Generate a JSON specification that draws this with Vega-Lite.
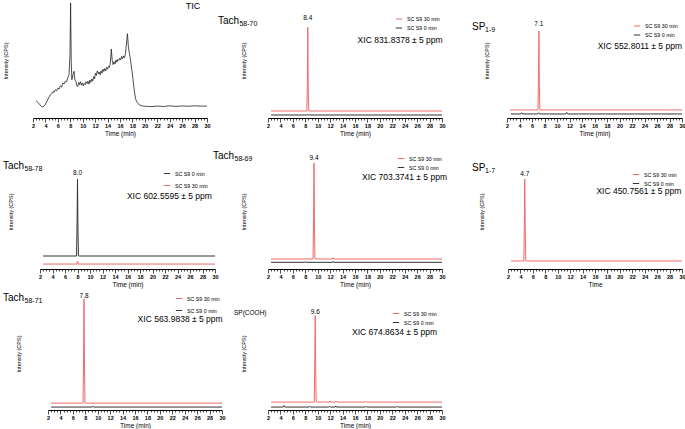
{
"$schema": "https://vega.github.io/schema/vega-lite/v6.json",
"padding": {"left": 3, "top": 0, "right": 0, "bottom": 0},
"background": "white",
"config": {
 "view": {"stroke": null},
 "font": "Liberation Sans",
 "axis": {"grid": false},
 "axisX": {"domainColor": "#000", "domainWidth": 1, "tickColor": "#000", "tickWidth": 0.7, "labelFontSize": 5.5, "labelFontWeight": "bold", "labelColor": "#000", "labelPadding": 1, "titleFontSize": 6.5, "titleFontWeight": "normal", "titleColor": "#000", "titlePadding": 2},
 "axisY": {"domain": false, "ticks": false, "labels": false, "titleFontSize": 5.5, "titleFontWeight": "normal", "titleColor": "#000"},
 "legend": {"labelFontSize": 5.3, "labelColor": "#000", "symbolType": "stroke", "symbolSize": 40, "symbolStrokeWidth": 1, "rowPadding": 1, "labelOffset": 4},
 "text": {"color": "#000"}
},
"datasets": {"d": [
{"p":"p1","s":"TIC","t":2.5,"v":15.1},{"p":"p1","s":"TIC","t":2.8,"v":13.5},{"p":"p1","s":"TIC","t":3.1,"v":11.5},{"p":"p1","s":"TIC","t":3.4,"v":10.0},{"p":"p1","s":"TIC","t":3.6,"v":9.6},{"p":"p1","s":"TIC","t":3.9,"v":11.0},{"p":"p1","s":"TIC","t":4.2,"v":14.0},{"p":"p1","s":"TIC","t":4.5,"v":17.5},{"p":"p1","s":"TIC","t":4.8,"v":20.3},{"p":"p1","s":"TIC","t":5.0,"v":21.0},{"p":"p1","s":"TIC","t":5.2,"v":23.0},{"p":"p1","s":"TIC","t":5.4,"v":22.3},{"p":"p1","s":"TIC","t":5.6,"v":24.5},{"p":"p1","s":"TIC","t":5.8,"v":23.5},{"p":"p1","s":"TIC","t":6.0,"v":26.0},{"p":"p1","s":"TIC","t":6.2,"v":25.2},{"p":"p1","s":"TIC","t":6.4,"v":28.0},{"p":"p1","s":"TIC","t":6.6,"v":27.0},{"p":"p1","s":"TIC","t":6.8,"v":30.5},{"p":"p1","s":"TIC","t":7.0,"v":29.5},{"p":"p1","s":"TIC","t":7.2,"v":32.0},{"p":"p1","s":"TIC","t":7.4,"v":31.5},{"p":"p1","s":"TIC","t":7.6,"v":35.0},{"p":"p1","s":"TIC","t":7.8,"v":37.7},{"p":"p1","s":"TIC","t":7.95,"v":55},{"p":"p1","s":"TIC","t":8.05,"v":100},{"p":"p1","s":"TIC","t":8.15,"v":50},{"p":"p1","s":"TIC","t":8.25,"v":33.3},{"p":"p1","s":"TIC","t":8.45,"v":38},{"p":"p1","s":"TIC","t":8.6,"v":40.6},{"p":"p1","s":"TIC","t":8.75,"v":33},{"p":"p1","s":"TIC","t":8.9,"v":31.9},{"p":"p1","s":"TIC","t":9.05,"v":28},{"p":"p1","s":"TIC","t":9.2,"v":27.5},{"p":"p1","s":"TIC","t":9.35,"v":31},{"p":"p1","s":"TIC","t":9.5,"v":29},{"p":"p1","s":"TIC","t":9.65,"v":31.5},{"p":"p1","s":"TIC","t":9.8,"v":28.5},{"p":"p1","s":"TIC","t":9.95,"v":30.5},{"p":"p1","s":"TIC","t":10.1,"v":28},{"p":"p1","s":"TIC","t":10.25,"v":30},{"p":"p1","s":"TIC","t":10.4,"v":29},{"p":"p1","s":"TIC","t":10.55,"v":31.5},{"p":"p1","s":"TIC","t":10.7,"v":30},{"p":"p1","s":"TIC","t":10.85,"v":32},{"p":"p1","s":"TIC","t":11.0,"v":29.5},{"p":"p1","s":"TIC","t":11.15,"v":33},{"p":"p1","s":"TIC","t":11.3,"v":31},{"p":"p1","s":"TIC","t":11.45,"v":34},{"p":"p1","s":"TIC","t":11.6,"v":32},{"p":"p1","s":"TIC","t":11.75,"v":36},{"p":"p1","s":"TIC","t":11.9,"v":34},{"p":"p1","s":"TIC","t":12.05,"v":39},{"p":"p1","s":"TIC","t":12.2,"v":37},{"p":"p1","s":"TIC","t":12.35,"v":41},{"p":"p1","s":"TIC","t":12.5,"v":38.5},{"p":"p1","s":"TIC","t":12.65,"v":40},{"p":"p1","s":"TIC","t":12.8,"v":37.5},{"p":"p1","s":"TIC","t":12.95,"v":41},{"p":"p1","s":"TIC","t":13.1,"v":39},{"p":"p1","s":"TIC","t":13.25,"v":42.5},{"p":"p1","s":"TIC","t":13.4,"v":40.5},{"p":"p1","s":"TIC","t":13.55,"v":43},{"p":"p1","s":"TIC","t":13.7,"v":41},{"p":"p1","s":"TIC","t":13.85,"v":44},{"p":"p1","s":"TIC","t":14.0,"v":42.5},{"p":"p1","s":"TIC","t":14.15,"v":45},{"p":"p1","s":"TIC","t":14.3,"v":44},{"p":"p1","s":"TIC","t":14.45,"v":48},{"p":"p1","s":"TIC","t":14.6,"v":60},{"p":"p1","s":"TIC","t":14.75,"v":50},{"p":"p1","s":"TIC","t":14.9,"v":46.4},{"p":"p1","s":"TIC","t":15.05,"v":49},{"p":"p1","s":"TIC","t":15.2,"v":47},{"p":"p1","s":"TIC","t":15.35,"v":50.5},{"p":"p1","s":"TIC","t":15.5,"v":48.5},{"p":"p1","s":"TIC","t":15.65,"v":51},{"p":"p1","s":"TIC","t":15.8,"v":50},{"p":"p1","s":"TIC","t":15.95,"v":52},{"p":"p1","s":"TIC","t":16.1,"v":50.5},{"p":"p1","s":"TIC","t":16.25,"v":53.5},{"p":"p1","s":"TIC","t":16.4,"v":51.5},{"p":"p1","s":"TIC","t":16.55,"v":54},{"p":"p1","s":"TIC","t":16.7,"v":52.2},{"p":"p1","s":"TIC","t":16.85,"v":55},{"p":"p1","s":"TIC","t":17.0,"v":62.3},{"p":"p1","s":"TIC","t":17.2,"v":73.3},{"p":"p1","s":"TIC","t":17.35,"v":62},{"p":"p1","s":"TIC","t":17.5,"v":56.5},{"p":"p1","s":"TIC","t":17.65,"v":52},{"p":"p1","s":"TIC","t":17.8,"v":46},{"p":"p1","s":"TIC","t":17.95,"v":40},{"p":"p1","s":"TIC","t":18.1,"v":33},{"p":"p1","s":"TIC","t":18.25,"v":26},{"p":"p1","s":"TIC","t":18.4,"v":20},{"p":"p1","s":"TIC","t":18.55,"v":16},{"p":"p1","s":"TIC","t":18.7,"v":14},{"p":"p1","s":"TIC","t":18.9,"v":12.5},{"p":"p1","s":"TIC","t":19.1,"v":11.6},{"p":"p1","s":"TIC","t":19.4,"v":10.8},{"p":"p1","s":"TIC","t":19.8,"v":10.3},{"p":"p1","s":"TIC","t":20.3,"v":10.1},{"p":"p1","s":"TIC","t":21,"v":9.9},{"p":"p1","s":"TIC","t":22,"v":10.4},{"p":"p1","s":"TIC","t":23,"v":10.0},{"p":"p1","s":"TIC","t":24,"v":10.6},{"p":"p1","s":"TIC","t":25,"v":10.1},{"p":"p1","s":"TIC","t":26,"v":10.5},{"p":"p1","s":"TIC","t":27,"v":10.2},{"p":"p1","s":"TIC","t":28,"v":10.6},{"p":"p1","s":"TIC","t":29,"v":10.3},{"p":"p1","s":"TIC","t":30,"v":10.4},

{"p":"p2","s":"SC S9 30 min","t":2.5,"v":6.1},{"p":"p2","s":"SC S9 30 min","t":8.25,"v":6.1},{"p":"p2","s":"SC S9 30 min","t":8.33,"v":30},{"p":"p2","s":"SC S9 30 min","t":8.4,"v":79},{"p":"p2","s":"SC S9 30 min","t":8.47,"v":28},{"p":"p2","s":"SC S9 30 min","t":8.55,"v":6.3},{"p":"p2","s":"SC S9 30 min","t":8.7,"v":6.1},{"p":"p2","s":"SC S9 30 min","t":30,"v":6.1},
{"p":"p2","s":"SC S9 0 min","t":2.5,"v":2.6},{"p":"p2","s":"SC S9 0 min","t":8.3,"v":2.6},{"p":"p2","s":"SC S9 0 min","t":8.4,"v":3.2},{"p":"p2","s":"SC S9 0 min","t":8.5,"v":2.6},{"p":"p2","s":"SC S9 0 min","t":30,"v":2.6},

{"p":"p3","s":"SC S9 30 min","t":2.5,"v":7},{"p":"p3","s":"SC S9 30 min","t":6.95,"v":7},{"p":"p3","s":"SC S9 30 min","t":7.03,"v":35},{"p":"p3","s":"SC S9 30 min","t":7.1,"v":75.6},{"p":"p3","s":"SC S9 30 min","t":7.17,"v":30},{"p":"p3","s":"SC S9 30 min","t":7.25,"v":7.2},{"p":"p3","s":"SC S9 30 min","t":7.4,"v":7},{"p":"p3","s":"SC S9 30 min","t":30,"v":7},
{"p":"p3","s":"SC S9 0 min","t":2.6,"v":3.5},{"p":"p3","s":"SC S9 0 min","t":4.2,"v":3.5},{"p":"p3","s":"SC S9 0 min","t":4.35,"v":4.6},{"p":"p3","s":"SC S9 0 min","t":4.5,"v":3.5},{"p":"p3","s":"SC S9 0 min","t":6.9,"v":3.5},{"p":"p3","s":"SC S9 0 min","t":7.05,"v":4.5},{"p":"p3","s":"SC S9 0 min","t":7.2,"v":3.5},{"p":"p3","s":"SC S9 0 min","t":11.4,"v":3.5},{"p":"p3","s":"SC S9 0 min","t":11.55,"v":4.8},{"p":"p3","s":"SC S9 0 min","t":11.7,"v":3.5},{"p":"p3","s":"SC S9 0 min","t":30,"v":3.5},

{"p":"p4","s":"SC S9 0 min","t":2.5,"v":11.3},{"p":"p4","s":"SC S9 0 min","t":7.85,"v":11.3},{"p":"p4","s":"SC S9 0 min","t":7.93,"v":40},{"p":"p4","s":"SC S9 0 min","t":8.0,"v":78.3},{"p":"p4","s":"SC S9 0 min","t":8.07,"v":35},{"p":"p4","s":"SC S9 0 min","t":8.15,"v":11.5},{"p":"p4","s":"SC S9 0 min","t":8.3,"v":11.3},{"p":"p4","s":"SC S9 0 min","t":30,"v":11.3},
{"p":"p4","s":"SC S9 30 min","t":2.5,"v":4.3},{"p":"p4","s":"SC S9 30 min","t":7.9,"v":4.3},{"p":"p4","s":"SC S9 30 min","t":8.0,"v":7},{"p":"p4","s":"SC S9 30 min","t":8.1,"v":4.3},{"p":"p4","s":"SC S9 30 min","t":30,"v":4.3},

{"p":"p5","s":"SC S9 30 min","t":2.5,"v":8.7},{"p":"p5","s":"SC S9 30 min","t":9.25,"v":8.7},{"p":"p5","s":"SC S9 30 min","t":9.33,"v":45},{"p":"p5","s":"SC S9 30 min","t":9.4,"v":92.2},{"p":"p5","s":"SC S9 30 min","t":9.47,"v":40},{"p":"p5","s":"SC S9 30 min","t":9.55,"v":9},{"p":"p5","s":"SC S9 30 min","t":9.7,"v":8.7},{"p":"p5","s":"SC S9 30 min","t":12.4,"v":8.7},{"p":"p5","s":"SC S9 30 min","t":12.5,"v":9.8},{"p":"p5","s":"SC S9 30 min","t":12.6,"v":8.7},{"p":"p5","s":"SC S9 30 min","t":30,"v":8.7},
{"p":"p5","s":"SC S9 0 min","t":2.5,"v":5.8},{"p":"p5","s":"SC S9 0 min","t":7.9,"v":5.8},{"p":"p5","s":"SC S9 0 min","t":8.0,"v":6.5},{"p":"p5","s":"SC S9 0 min","t":8.1,"v":5.8},{"p":"p5","s":"SC S9 0 min","t":12.4,"v":5.8},{"p":"p5","s":"SC S9 0 min","t":12.5,"v":6.6},{"p":"p5","s":"SC S9 0 min","t":12.6,"v":5.8},{"p":"p5","s":"SC S9 0 min","t":30,"v":5.8},

{"p":"p6","s":"SC S9 30 min","t":2.5,"v":7},{"p":"p6","s":"SC S9 30 min","t":4.55,"v":7},{"p":"p6","s":"SC S9 30 min","t":4.63,"v":40},{"p":"p6","s":"SC S9 30 min","t":4.7,"v":78.3},{"p":"p6","s":"SC S9 30 min","t":4.77,"v":38},{"p":"p6","s":"SC S9 30 min","t":4.85,"v":7.2},{"p":"p6","s":"SC S9 30 min","t":5.0,"v":7},{"p":"p6","s":"SC S9 30 min","t":30,"v":7},

{"p":"p7","s":"SC S9 30 min","t":2.5,"v":6.1},{"p":"p7","s":"SC S9 30 min","t":7.65,"v":6.1},{"p":"p7","s":"SC S9 30 min","t":7.73,"v":50},{"p":"p7","s":"SC S9 30 min","t":7.8,"v":98.3},{"p":"p7","s":"SC S9 30 min","t":7.87,"v":45},{"p":"p7","s":"SC S9 30 min","t":7.95,"v":6.3},{"p":"p7","s":"SC S9 30 min","t":8.1,"v":6.1},{"p":"p7","s":"SC S9 30 min","t":30,"v":6.1},
{"p":"p7","s":"SC S9 0 min","t":2.5,"v":2.6},{"p":"p7","s":"SC S9 0 min","t":9.1,"v":2.6},{"p":"p7","s":"SC S9 0 min","t":9.2,"v":3.3},{"p":"p7","s":"SC S9 0 min","t":9.3,"v":2.6},{"p":"p7","s":"SC S9 0 min","t":30,"v":2.6},

{"p":"p8","s":"SC S9 30 min","t":2.5,"v":7},{"p":"p8","s":"SC S9 30 min","t":9.45,"v":7},{"p":"p8","s":"SC S9 30 min","t":9.53,"v":45},{"p":"p8","s":"SC S9 30 min","t":9.6,"v":83.5},{"p":"p8","s":"SC S9 30 min","t":9.67,"v":40},{"p":"p8","s":"SC S9 30 min","t":9.75,"v":7.3},{"p":"p8","s":"SC S9 30 min","t":9.9,"v":7},{"p":"p8","s":"SC S9 30 min","t":10.9,"v":7},{"p":"p8","s":"SC S9 30 min","t":11.0,"v":7.8},{"p":"p8","s":"SC S9 30 min","t":11.1,"v":7},{"p":"p8","s":"SC S9 30 min","t":11.9,"v":7},{"p":"p8","s":"SC S9 30 min","t":12.0,"v":8},{"p":"p8","s":"SC S9 30 min","t":12.1,"v":7},{"p":"p8","s":"SC S9 30 min","t":12.9,"v":7},{"p":"p8","s":"SC S9 30 min","t":13.0,"v":7.8},{"p":"p8","s":"SC S9 30 min","t":13.1,"v":7},{"p":"p8","s":"SC S9 30 min","t":17.6,"v":7},{"p":"p8","s":"SC S9 30 min","t":17.7,"v":7.7},{"p":"p8","s":"SC S9 30 min","t":17.8,"v":7},{"p":"p8","s":"SC S9 30 min","t":30,"v":7},
{"p":"p8","s":"SC S9 0 min","t":2.5,"v":2.6},{"p":"p8","s":"SC S9 0 min","t":4.45,"v":2.6},{"p":"p8","s":"SC S9 0 min","t":4.6,"v":3.9},{"p":"p8","s":"SC S9 0 min","t":4.75,"v":2.6},{"p":"p8","s":"SC S9 0 min","t":8.6,"v":2.6},{"p":"p8","s":"SC S9 0 min","t":8.7,"v":3.2},{"p":"p8","s":"SC S9 0 min","t":8.8,"v":2.6},{"p":"p8","s":"SC S9 0 min","t":11.8,"v":2.6},{"p":"p8","s":"SC S9 0 min","t":11.9,"v":3.2},{"p":"p8","s":"SC S9 0 min","t":12.0,"v":2.6},{"p":"p8","s":"SC S9 0 min","t":12.8,"v":2.6},{"p":"p8","s":"SC S9 0 min","t":12.9,"v":3.6},{"p":"p8","s":"SC S9 0 min","t":13.0,"v":2.6},{"p":"p8","s":"SC S9 0 min","t":17.7,"v":2.6},{"p":"p8","s":"SC S9 0 min","t":17.8,"v":3.2},{"p":"p8","s":"SC S9 0 min","t":17.9,"v":2.6},{"p":"p8","s":"SC S9 0 min","t":22.7,"v":2.6},{"p":"p8","s":"SC S9 0 min","t":22.8,"v":3.2},{"p":"p8","s":"SC S9 0 min","t":22.9,"v":2.6},{"p":"p8","s":"SC S9 0 min","t":30,"v":2.6}
]},
"resolve": {"scale": {"color": "independent"}, "legend": {"color": "independent"}},
"spacing": 14,
"vconcat": [
{"hconcat": [
 {"width": 174, "height": 115, "layer": [
  {"data": {"name": "d"}, "transform": [{"filter": "datum.p === 'p1'"}], "mark": {"type": "line", "strokeWidth": 0.8, "color": "#222"},
   "encoding": {"x": {"field": "t", "type": "quantitative", "scale": {"domain": [2, 30], "nice": false, "zero": false}, "axis": {"title": "Time (min)", "tickCount": 56, "labelExpr": "datum.value % 2 === 0 ? format(datum.value, 'd') : ''", "labelOverlap": false, "labelFlush": false, "tickSize": {"condition": {"test": "datum.value % 2 === 0", "value": 4}, "value": 2}}},
    "y": {"field": "v", "type": "quantitative", "scale": {"domain": [0, 100], "nice": false, "zero": false}, "axis": {"title": "Intensity (CPS)", "titlePadding": 25}}}},
  {"data": {"values": [{}]}, "mark": {"type": "text", "text": "TIC", "fontSize": 9, "align": "left", "baseline": "middle"}, "encoding": {"x": {"datum": 26.6}, "y": {"datum": 97}}}
 ]},
 {"width": 61, "height": 1, "data": {"values": [{}]}, "mark": {"type": "point", "opacity": 0}},
 {"width": 174, "height": 115, "layer": [
  {"data": {"name": "d"}, "transform": [{"filter": "datum.p === 'p2'"}], "mark": {"type": "line", "strokeWidth": 1},
   "encoding": {"x": {"field": "t", "type": "quantitative", "scale": {"domain": [2, 30], "nice": false, "zero": false}, "axis": {"title": "Time (min)", "tickCount": 56, "labelExpr": "datum.value % 2 === 0 ? format(datum.value, 'd') : ''", "labelOverlap": false, "labelFlush": false, "tickSize": {"condition": {"test": "datum.value % 2 === 0", "value": 4}, "value": 2}}},
    "y": {"field": "v", "type": "quantitative", "scale": {"domain": [0, 100], "nice": false, "zero": false}, "axis": {"title": "Intensity (CPS)", "titlePadding": 22}},
    "color": {"field": "s", "type": "nominal", "scale": {"domain": ["SC S9 30 min", "SC S9 0 min"], "range": ["#ee6b6b", "#333333"]}, "legend": {"title": null, "orient": "none", "legendX": 127, "legendY": 12}}}},
  {"data": {"values": [{}]}, "mark": {"type": "text", "text": "8.4", "fontSize": 6.5, "baseline": "middle"}, "encoding": {"x": {"datum": 8.4}, "y": {"datum": 87}}},
  {"data": {"values": [{}]}, "mark": {"type": "text", "text": "XIC 831.8378 ± 5 ppm", "fontSize": 8.5, "align": "right", "baseline": "middle"}, "encoding": {"x": {"datum": 30.1}, "y": {"datum": 67.8}}},
  {"data": {"values": [{}]}, "mark": {"type": "text", "text": "Tach", "fontSize": 10, "align": "left", "baseline": "middle"}, "encoding": {"x": {"datum": -6.05}, "y": {"datum": 84.3}}},
  {"data": {"values": [{}]}, "mark": {"type": "text", "text": "58-70", "fontSize": 7, "align": "left", "baseline": "middle", "dx": 21.5, "dy": 3}, "encoding": {"x": {"datum": -6.05}, "y": {"datum": 84.3}}}
 ]},
 {"width": 65, "height": 1, "data": {"values": [{}]}, "mark": {"type": "point", "opacity": 0}},
 {"width": 175, "height": 115, "layer": [
  {"data": {"name": "d"}, "transform": [{"filter": "datum.p === 'p3'"}], "mark": {"type": "line", "strokeWidth": 1},
   "encoding": {"x": {"field": "t", "type": "quantitative", "scale": {"domain": [2, 30], "nice": false, "zero": false}, "axis": {"title": "Time (min)", "tickCount": 56, "labelExpr": "datum.value % 2 === 0 ? format(datum.value, 'd') : ''", "labelOverlap": false, "labelFlush": false, "tickSize": {"condition": {"test": "datum.value % 2 === 0", "value": 4}, "value": 2}}},
    "y": {"field": "v", "type": "quantitative", "scale": {"domain": [0, 100], "nice": false, "zero": false}, "axis": {"title": "Intensity (CPS)", "titlePadding": 18}},
    "color": {"field": "s", "type": "nominal", "scale": {"domain": ["SC S9 30 min", "SC S9 0 min"], "range": ["#ee6b6b", "#333333"]}, "legend": {"title": null, "orient": "none", "legendX": 126, "legendY": 19}}}},
  {"data": {"values": [{}]}, "mark": {"type": "text", "text": "7.1", "fontSize": 6.5, "baseline": "middle"}, "encoding": {"x": {"datum": 7.1}, "y": {"datum": 81.7}}},
  {"data": {"values": [{}]}, "mark": {"type": "text", "text": "XIC 552.8011 ± 5 ppm", "fontSize": 8.5, "align": "right", "baseline": "middle"}, "encoding": {"x": {"datum": 30}, "y": {"datum": 62.6}}},
  {"data": {"values": [{}]}, "mark": {"type": "text", "text": "SP", "fontSize": 10, "align": "left", "baseline": "middle"}, "encoding": {"x": {"datum": -3.6}, "y": {"datum": 79.1}}},
  {"data": {"values": [{}]}, "mark": {"type": "text", "text": "1-9", "fontSize": 7, "align": "left", "baseline": "middle", "dx": 13, "dy": 3}, "encoding": {"x": {"datum": -3.6}, "y": {"datum": 79.1}}}
 ]}
], "spacing": 0, "bounds": "flush", "resolve": {"scale": {"color": "independent"}, "legend": {"color": "independent"}}},
{"vconcat": [
{"hconcat": [
 {"width": 7, "height": 1, "data": {"values": [{}]}, "mark": {"type": "point", "opacity": 0}},
 {"width": 175, "height": 115, "layer": [
  {"data": {"name": "d"}, "transform": [{"filter": "datum.p === 'p4'"}], "mark": {"type": "line", "strokeWidth": 1},
   "encoding": {"x": {"field": "t", "type": "quantitative", "scale": {"domain": [2, 30], "nice": false, "zero": false}, "axis": {"title": "Time (min)", "tickCount": 56, "labelExpr": "datum.value % 2 === 0 ? format(datum.value, 'd') : ''", "labelOverlap": false, "labelFlush": false, "tickSize": {"condition": {"test": "datum.value % 2 === 0", "value": 4}, "value": 2}}},
    "y": {"field": "v", "type": "quantitative", "scale": {"domain": [0, 100], "nice": false, "zero": false}, "axis": {"title": "Intensity (CPS)", "titlePadding": 27}},
    "color": {"field": "s", "type": "nominal", "scale": {"domain": ["SC S9 0 min", "SC S9 30 min"], "range": ["#333333", "#ee6b6b"]}, "legend": {"title": null, "orient": "none", "legendX": 123, "legendY": 15.5, "rowPadding": 4}}}},
  {"data": {"values": [{}]}, "mark": {"type": "text", "text": "8.0", "fontSize": 6.5, "baseline": "middle"}, "encoding": {"x": {"datum": 8.0}, "y": {"datum": 83.5}}},
  {"data": {"values": [{}]}, "mark": {"type": "text", "text": "XIC 602.5595 ± 5 ppm", "fontSize": 8.5, "align": "right", "baseline": "middle"}, "encoding": {"x": {"datum": 29.5}, "y": {"datum": 63.5}}},
  {"data": {"values": [{}]}, "mark": {"type": "text", "text": "Tach", "fontSize": 10, "align": "left", "baseline": "middle"}, "encoding": {"x": {"datum": -3.92}, "y": {"datum": 89.6}}},
  {"data": {"values": [{}]}, "mark": {"type": "text", "text": "58-78", "fontSize": 7, "align": "left", "baseline": "middle", "dx": 21.5, "dy": 3}, "encoding": {"x": {"datum": -3.92}, "y": {"datum": 89.6}}}
 ]},
 {"width": 53, "height": 1, "data": {"values": [{}]}, "mark": {"type": "point", "opacity": 0}},
 {"width": 174, "height": 115, "layer": [
  {"data": {"name": "d"}, "transform": [{"filter": "datum.p === 'p5'"}], "mark": {"type": "line", "strokeWidth": 1},
   "encoding": {"x": {"field": "t", "type": "quantitative", "scale": {"domain": [2, 30], "nice": false, "zero": false}, "axis": {"title": "Time (min)", "tickCount": 56, "labelExpr": "datum.value % 2 === 0 ? format(datum.value, 'd') : ''", "labelOverlap": false, "labelFlush": false, "tickSize": {"condition": {"test": "datum.value % 2 === 0", "value": 4}, "value": 2}}},
    "y": {"field": "v", "type": "quantitative", "scale": {"domain": [0, 100], "nice": false, "zero": false}, "axis": {"title": "Intensity (CPS)", "titlePadding": 22}},
    "color": {"field": "s", "type": "nominal", "scale": {"domain": ["SC S9 30 min", "SC S9 0 min"], "range": ["#ee6b6b", "#333333"]}, "legend": {"title": null, "orient": "none", "legendX": 129, "legendY": 0.5}}}},
  {"data": {"values": [{}]}, "mark": {"type": "text", "text": "9.4", "fontSize": 6.5, "baseline": "middle"}, "encoding": {"x": {"datum": 9.4}, "y": {"datum": 96.5}}},
  {"data": {"values": [{}]}, "mark": {"type": "text", "text": "XIC 703.3741 ± 5 ppm", "fontSize": 8.5, "align": "right", "baseline": "middle"}, "encoding": {"x": {"datum": 30.8}, "y": {"datum": 80}}},
  {"data": {"values": [{}]}, "mark": {"type": "text", "text": "Tach", "fontSize": 10, "align": "left", "baseline": "middle"}, "encoding": {"x": {"datum": -6.85}, "y": {"datum": 98}}},
  {"data": {"values": [{}]}, "mark": {"type": "text", "text": "58-69", "fontSize": 7, "align": "left", "baseline": "middle", "dx": 21.5, "dy": 3}, "encoding": {"x": {"datum": -6.85}, "y": {"datum": 98}}}
 ]},
 {"width": 66, "height": 1, "data": {"values": [{}]}, "mark": {"type": "point", "opacity": 0}},
 {"width": 174, "height": 115, "layer": [
  {"data": {"name": "d"}, "transform": [{"filter": "datum.p === 'p6'"}], "mark": {"type": "line", "strokeWidth": 1},
   "encoding": {"x": {"field": "t", "type": "quantitative", "scale": {"domain": [2, 30], "nice": false, "zero": false}, "axis": {"title": "Time", "tickCount": 56, "labelExpr": "datum.value % 2 === 0 ? format(datum.value, 'd') : ''", "labelOverlap": false, "labelFlush": false, "tickSize": {"condition": {"test": "datum.value % 2 === 0", "value": 4}, "value": 2}}},
    "y": {"field": "v", "type": "quantitative", "scale": {"domain": [0, 100], "nice": false, "zero": false}, "axis": {"title": "Intensity (CPS)", "titlePadding": 24}},
    "color": {"field": "s", "type": "nominal", "scale": {"domain": ["SC S9 30 min", "SC S9 0 min"], "range": ["#ee6b6b", "#333333"]}, "legend": {"title": null, "orient": "none", "legendX": 124, "legendY": 16.5}}}},
  {"data": {"values": [{}]}, "mark": {"type": "text", "text": "4.7", "fontSize": 6.5, "baseline": "middle"}, "encoding": {"x": {"datum": 4.7}, "y": {"datum": 82.6}}},
  {"data": {"values": [{}]}, "mark": {"type": "text", "text": "XIC 450.7561 ± 5 ppm", "fontSize": 8.5, "align": "right", "baseline": "middle"}, "encoding": {"x": {"datum": 29.9}, "y": {"datum": 67.8}}},
  {"data": {"values": [{}]}, "mark": {"type": "text", "text": "SP", "fontSize": 10, "align": "left", "baseline": "middle"}, "encoding": {"x": {"datum": -3.8}, "y": {"datum": 87.8}}},
  {"data": {"values": [{}]}, "mark": {"type": "text", "text": "1-7", "fontSize": 7, "align": "left", "baseline": "middle", "dx": 13, "dy": 3}, "encoding": {"x": {"datum": -3.8}, "y": {"datum": 87.8}}}
 ]}
], "spacing": 0, "bounds": "flush", "resolve": {"scale": {"color": "independent"}, "legend": {"color": "independent"}}},
{"hconcat": [
 {"width": 15, "height": 1, "data": {"values": [{}]}, "mark": {"type": "point", "opacity": 0}},
 {"width": 174, "height": 113, "layer": [
  {"data": {"name": "d"}, "transform": [{"filter": "datum.p === 'p7'"}], "mark": {"type": "line", "strokeWidth": 1},
   "encoding": {"x": {"field": "t", "type": "quantitative", "scale": {"domain": [2, 30], "nice": false, "zero": false}, "axis": {"title": "Time (min)", "tickCount": 56, "labelExpr": "datum.value % 2 === 0 ? format(datum.value, 'd') : ''", "labelOverlap": false, "labelFlush": false, "tickSize": {"condition": {"test": "datum.value % 2 === 0", "value": 4}, "value": 2}}},
    "y": {"field": "v", "type": "quantitative", "scale": {"domain": [0, 100], "nice": false, "zero": false}, "axis": {"title": "Intensity (CPS)", "titlePadding": 27}},
    "color": {"field": "s", "type": "nominal", "scale": {"domain": ["SC S9 30 min", "SC S9 0 min"], "range": ["#ee6b6b", "#333333"]}, "legend": {"title": null, "orient": "none", "legendX": 127, "legendY": -2.5, "rowPadding": 4}}}},
  {"data": {"values": [{}]}, "mark": {"type": "text", "text": "7.8", "fontSize": 6.5, "baseline": "middle"}, "encoding": {"x": {"datum": 7.8}, "y": {"datum": 100.9}}},
  {"data": {"values": [{}]}, "mark": {"type": "text", "text": "XIC 563.9838 ± 5 ppm", "fontSize": 8.5, "align": "right", "baseline": "middle"}, "encoding": {"x": {"datum": 30.1}, "y": {"datum": 80.9}}},
  {"data": {"values": [{}]}, "mark": {"type": "text", "text": "Tach", "fontSize": 10, "align": "left", "baseline": "middle"}, "encoding": {"x": {"datum": -5.24}, "y": {"datum": 99.1}}},
  {"data": {"values": [{}]}, "mark": {"type": "text", "text": "58-71", "fontSize": 7, "align": "left", "baseline": "middle", "dx": 21.5, "dy": 3}, "encoding": {"x": {"datum": -5.24}, "y": {"datum": 99.1}}}
 ]},
 {"width": 46, "height": 1, "data": {"values": [{}]}, "mark": {"type": "point", "opacity": 0}},
 {"width": 174, "height": 113, "layer": [
  {"data": {"name": "d"}, "transform": [{"filter": "datum.p === 'p8'"}], "mark": {"type": "line", "strokeWidth": 1},
   "encoding": {"x": {"field": "t", "type": "quantitative", "scale": {"domain": [2, 30], "nice": false, "zero": false}, "axis": {"title": "Time (min)", "tickCount": 56, "labelExpr": "datum.value % 2 === 0 ? format(datum.value, 'd') : ''", "labelOverlap": false, "labelFlush": false, "tickSize": {"condition": {"test": "datum.value % 2 === 0", "value": 4}, "value": 2}}},
    "y": {"field": "v", "type": "quantitative", "scale": {"domain": [0, 100], "nice": false, "zero": false}, "axis": {"title": "Intensity (CPS)", "titlePadding": 22}},
    "color": {"field": "s", "type": "nominal", "scale": {"domain": ["SC S9 30 min", "SC S9 0 min"], "range": ["#ee6b6b", "#333333"]}, "legend": {"title": null, "orient": "none", "legendX": 124, "legendY": 12.5}}}},
  {"data": {"values": [{}]}, "mark": {"type": "text", "text": "9.6", "fontSize": 6.5, "baseline": "middle"}, "encoding": {"x": {"datum": 9.6}, "y": {"datum": 87}}},
  {"data": {"values": [{}]}, "mark": {"type": "text", "text": "XIC 674.8634 ± 5 ppm", "fontSize": 8.5, "align": "right", "baseline": "middle"}, "encoding": {"x": {"datum": 29.2}, "y": {"datum": 68.7}}},
  {"data": {"values": [{}]}, "mark": {"type": "text", "text": "SP(COOH)", "fontSize": 6.5, "align": "left", "baseline": "middle"}, "encoding": {"x": {"datum": -3.47}, "y": {"datum": 86.1}}}
 ]}
], "spacing": 0, "bounds": "flush", "resolve": {"scale": {"color": "independent"}, "legend": {"color": "independent"}}}
], "spacing": 4, "resolve": {"scale": {"color": "independent"}, "legend": {"color": "independent"}}}
]
}
